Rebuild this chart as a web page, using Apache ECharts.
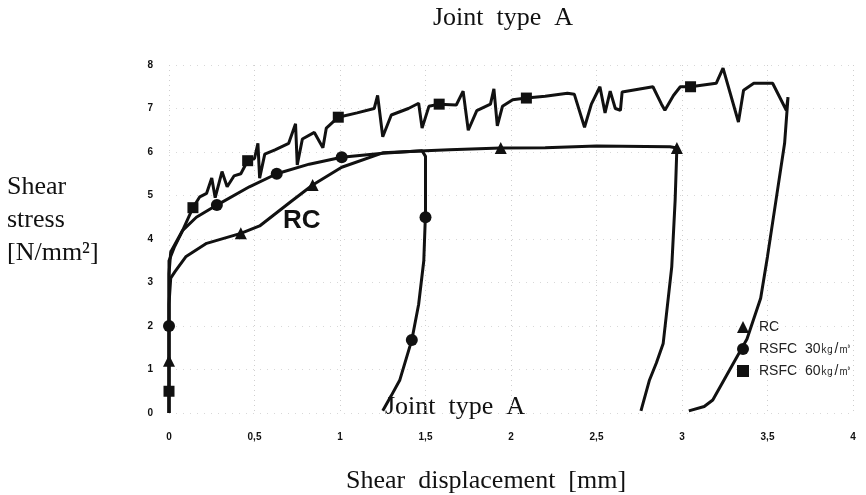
<!DOCTYPE html>
<html>
<head>
<meta charset="UTF-8">
<title>Joint type A</title>
<style>
  html, body { margin: 0; padding: 0; background: #fff; }
  #chart { width: 866px; height: 495px; }
</style>
</head>
<body>
<div id="chart"></div>
<script src="https://cdn.jsdelivr.net/npm/echarts@6/dist/echarts.min.js"></script>
<script>
// shear displacement [mm], shear stress [N/mm2]
var rcLine = [[0,0],[0,1.2],[0,2.5],[0.01,3.1],[0.035,3.25],[0.1,3.6],[0.22,3.9],[0.42,4.13],[0.53,4.3],[0.71,4.85],[0.84,5.24],[1.01,5.65],[1.25,5.98],[1.5,6.03],[1.64,6.05],[1.94,6.09],[2.2,6.1],[2.5,6.14],[2.93,6.12],[2.97,6.09],[2.96,4.9],[2.94,3.36],[2.89,1.6],[2.85,1.15],[2.81,0.76],[2.76,0.05]];
var rcMarks = [[0,1.2],[0.42,4.13],[0.84,5.24],[1.94,6.09],[2.97,6.09]];

var rsfc30Line = [[0,0],[0,2.0],[0,3.2],[0.01,3.7],[0.08,4.2],[0.16,4.5],[0.28,4.78],[0.47,5.2],[0.63,5.5],[0.82,5.72],[1.01,5.88],[1.25,5.97],[1.48,6.03],[1.5,5.9],[1.5,4.6],[1.49,3.5],[1.46,2.5],[1.42,1.68],[1.35,0.76],[1.3,0.4],[1.25,0.05]];
var rsfc30Marks = [[0,2.0],[0.28,4.78],[0.63,5.5],[1.01,5.88],[1.5,4.5],[1.42,1.68]];

var rsfc60Line = [[0,0],[0,0.5],[0,2.5],[0,3.5],[0.03,3.8],[0.08,4.2],[0.14,4.72],[0.18,4.97],[0.22,5.05],[0.25,5.4],[0.27,4.95],[0.31,5.55],[0.34,5.2],[0.38,5.45],[0.42,5.5],[0.46,5.8],[0.5,5.85],[0.52,6.2],[0.53,5.4],[0.56,5.95],[0.62,6.05],[0.7,6.2],[0.74,6.65],[0.75,5.7],[0.78,6.3],[0.85,6.45],[0.9,6.1],[0.92,6.55],[0.99,6.8],[1.1,6.9],[1.2,7.0],[1.22,7.3],[1.25,6.35],[1.3,6.85],[1.4,7.0],[1.46,7.12],[1.48,6.55],[1.52,7.05],[1.58,7.1],[1.68,7.08],[1.72,7.4],[1.75,6.5],[1.8,6.95],[1.88,7.1],[1.9,7.45],[1.92,6.6],[1.95,7.05],[2.01,7.2],[2.09,7.24],[2.2,7.28],[2.33,7.35],[2.37,7.33],[2.43,6.57],[2.47,7.1],[2.52,7.5],[2.55,6.9],[2.58,7.4],[2.61,7.0],[2.64,6.96],[2.65,7.38],[2.83,7.5],[2.88,7.1],[2.9,6.96],[2.95,7.3],[2.99,7.5],[3.05,7.5],[3.2,7.58],[3.24,7.93],[3.33,6.69],[3.36,7.42],[3.42,7.58],[3.53,7.58],[3.61,6.96],[3.62,7.26],[3.6,6.2],[3.55,4.9],[3.5,3.6],[3.46,2.64],[3.38,1.7],[3.28,1.0],[3.18,0.3],[3.13,0.15],[3.04,0.05]];
var rsfc60Marks = [[0,0.5],[0.14,4.72],[0.46,5.8],[0.99,6.8],[1.58,7.1],[2.09,7.24],[3.05,7.5]];

var names = ['RC', 'RSFC  30㎏/㎥', 'RSFC  60㎏/㎥'];
var symbols = ['triangle', 'circle', 'rect'];
var lines = [rcLine, rsfc30Line, rsfc60Line];
var marks = [rcMarks, rsfc30Marks, rsfc60Marks];

var chart = echarts.init(document.getElementById('chart'));
var serif = '"Liberation Serif", "DejaVu Serif", serif';
var sans = '"Liberation Sans", Arial, sans-serif';

var series = [];
for (var i = 0; i < 3; i++) {
  series.push({
    name: names[i], type: 'line', data: lines[i], symbol: 'none', color: '#111',
    lineStyle: { color: '#111', width: 3 }, z: 2
  });
  series.push({
    name: names[i], type: 'scatter', data: marks[i], symbol: symbols[i], color: '#111',
    symbolSize: i == 2 ? 11 : 12, itemStyle: { color: '#111', opacity: 1 }, z: 3
  });
}

var option = {
  backgroundColor: '#fff',
  animation: false,
  grid: { left: 169, right: 13, top: 65, bottom: 82 },
  legend: {
    orient: 'vertical', left: 732, top: 315, itemGap: 8,
    itemWidth: 12, itemHeight: 12,
    itemStyle: { color: '#111', opacity: 1 },
    textStyle: { color: '#222', fontSize: 14, fontFamily: sans, padding: [0, 0, 0, 5] },
    data: [
      { name: names[0], icon: 'triangle' },
      { name: names[1], icon: 'circle' },
      { name: names[2], icon: 'rect' }
    ]
  },
  xAxis: {
    type: 'value', min: 0, max: 4, interval: 0.5,
    axisLine: { show: false }, axisTick: { show: false },
    splitLine: { show: true, lineStyle: { color: '#cfcfcf', type: [1, 4], width: 1 } },
    axisLabel: {
      margin: 19, color: '#111', fontSize: 10, fontWeight: 'bold', fontFamily: sans,
      formatter: function (v) { return String(v).replace('.', ','); }
    }
  },
  yAxis: {
    type: 'value', min: 0, max: 8, interval: 1,
    axisLine: { show: false }, axisTick: { show: false },
    splitLine: { show: true, lineStyle: { color: '#d8d8d8', type: [1, 6], width: 1 } },
    axisLabel: { margin: 16, color: '#111', fontSize: 10, fontWeight: 'bold', fontFamily: sans }
  },
  graphic: [
    { type: 'text', left: 433, top: 5, style: { text: 'Joint  type  A', font: '26px ' + serif, fill: '#111' } },
    { type: 'text', left: 385, top: 394, style: { text: 'Joint  type  A', font: '26px ' + serif, fill: '#111' } },
    { type: 'text', left: 346, top: 468, style: { text: 'Shear  displacement  [mm]', font: '26px ' + serif, fill: '#111' } },
    { type: 'text', left: 283, top: 208, style: { text: 'RC', font: 'bold 26px ' + sans, fill: '#111' } },
    { type: 'text', left: 7, top: 171, style: { text: 'Shear\nstress\n[N/mm²]', font: '26px ' + serif, fill: '#111', lineHeight: 33 } }
  ],
  series: series
};
chart.setOption(option);
</script>
</body>
</html>
